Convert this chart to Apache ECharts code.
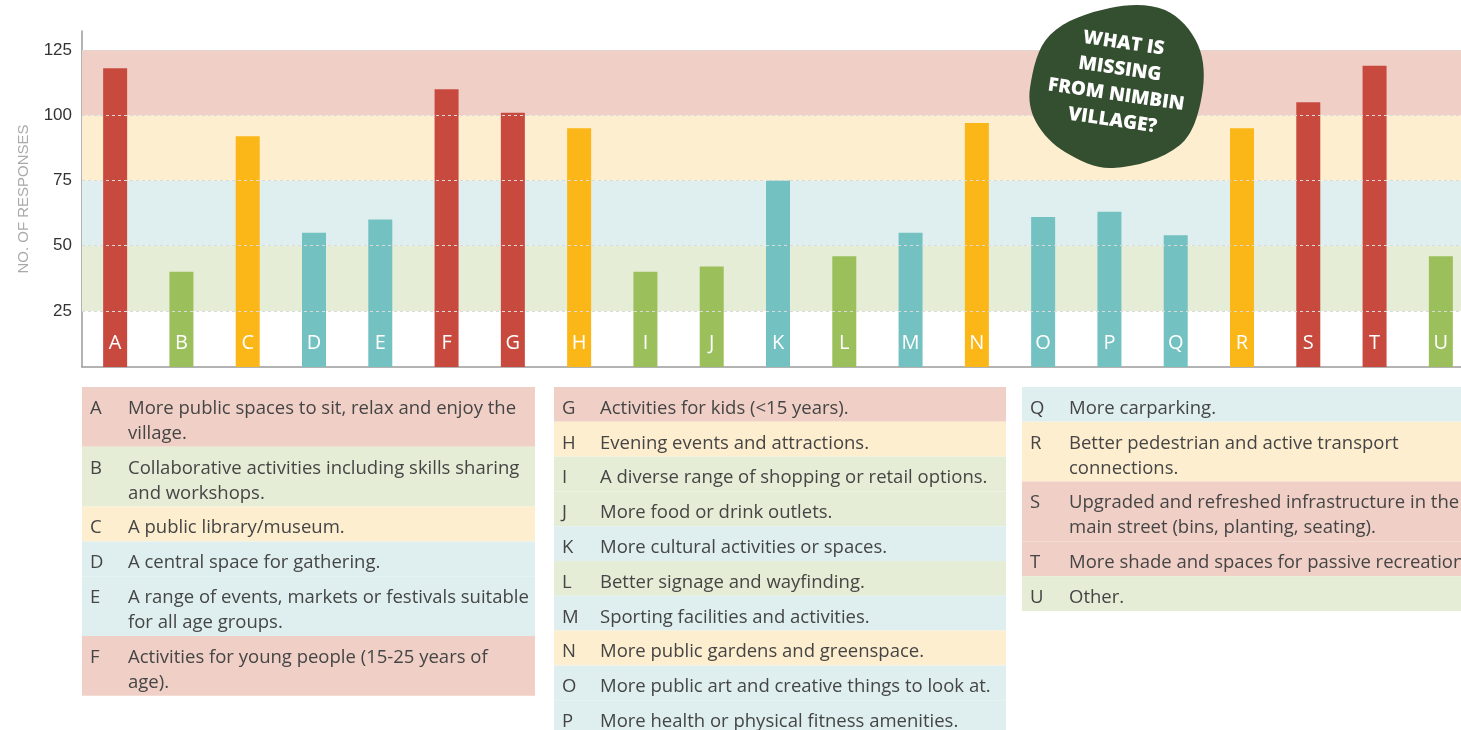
<!DOCTYPE html>
<html>
<head>
<meta charset="utf-8">
<script src="https://cdn.jsdelivr.net/npm/echarts@6/dist/echarts.min.js"></script>
<style>
  html, body { margin: 0; padding: 0; background: #ffffff; }
  #chart { width: 1461px; height: 730px; }
</style>
</head>
<body>
<div id="chart"></div>
<script>
// ---------- DATA ----------
var categories = ['A','B','C','D','E','F','G','H','I','J','K','L','M','N','O','P','Q','R','S','T','U'];
var responses  = [118, 40, 92, 55, 60, 110, 101, 95, 40, 42, 75, 46, 55, 97, 61, 63, 54, 95, 105, 119, 46];
var yTickValues = [25, 50, 75, 100, 125];
var yAxisName = 'NO. OF RESPONSES';
var descriptions = [
  'More public spaces to sit, relax and enjoy the\nvillage.',
  'Collaborative activities including skills sharing\nand workshops.',
  'A public library/museum.',
  'A central space for gathering.',
  'A range of events, markets or festivals suitable\nfor all age groups.',
  'Activities for young people (15-25 years of\nage).',
  'Activities for kids (<15 years).',
  'Evening events and attractions.',
  'A diverse range of shopping or retail options.',
  'More food or drink outlets.',
  'More cultural activities or spaces.',
  'Better signage and wayfinding.',
  'Sporting facilities and activities.',
  'More public gardens and greenspace.',
  'More public art and creative things to look at.',
  'More health or physical fitness amenities.',
  'More carparking.',
  'Better pedestrian and active transport\nconnections.',
  'Upgraded and refreshed infrastructure in the\nmain street (bins, planting, seating).',
  'More shade and spaces for passive recreation.',
  'Other.'
];
var legendColumns = [[0,1,2,3,4,5],[6,7,8,9,10,11,12,13,14,15],[16,17,18,19,20]];
var badgeText = 'WHAT IS\nMISSING\nFROM NIMBIN\nVILLAGE?';
// response bands: [from, to]
var bands = [[25,50],[50,75],[75,100],[100,125]];

// ---------- STYLE ----------
var strong = ['#9BBF5A', '#74C1C2', '#FBB617', '#C84A3E'];
var light  = ['#E5EDD6', '#DFEFEF', '#FDEECF', '#F0D0C6'];
function bandIndex(v) {
  if (v > 100) return 3;
  if (v > 75) return 2;
  if (v >= 50) return 1;
  return 0;
}

var chart = echarts.init(document.getElementById('chart'));

// legend table graphics
var colX = [
  {x: 82,   w: 453, lx: 90,   tx: 128},
  {x: 554,  w: 452, lx: 562,  tx: 600},
  {x: 1022, w: 460, lx: 1030, tx: 1069}
];
var textFont = {fontSize: 18.5, fontFamily: 'Open Sans', fill: '#454545'};
var graphics = [];
legendColumns.forEach(function (col, ci) {
  var c = colX[ci];
  var y = 387;
  col.forEach(function (idx) {
    var nLines = descriptions[idx].split('\n').length;
    var h = 34.8 + 25 * (nLines - 1);
    var bi = bandIndex(responses[idx]);
    graphics.push({
      type: 'rect', z: 10,
      shape: {x: c.x, y: y, width: c.w, height: h},
      style: {fill: light[bi]}
    });
    graphics.push({
      type: 'text', z: 11,
      x: c.lx, y: y + 9,
      style: {text: categories[idx], fill: textFont.fill, fontSize: textFont.fontSize, fontFamily: textFont.fontFamily,
              lineHeight: 25, verticalAlign: 'top', align: 'left'}
    });
    graphics.push({
      type: 'text', z: 11,
      x: c.tx, y: y + 9,
      style: {text: descriptions[idx], fill: textFont.fill, fontSize: textFont.fontSize, fontFamily: textFont.fontFamily,
              lineHeight: 25, verticalAlign: 'top', align: 'left'}
    });
    y += h;
  });
});

// badge
graphics.push({
  type: 'polygon', z: 20,
  shape: {
    points: [[1030,88],[1050,35],[1110,8],[1165,10],[1198,45],[1202,95],[1180,145],[1113,168],[1065,152],[1036,122]],
    smooth: 0.35
  },
  style: {fill: '#344E30'}
});
graphics.push({
  type: 'text', z: 21,
  x: 1118, y: 82, rotation: -0.145,
  style: {text: badgeText, fill: '#ffffff', fontSize: 19, fontWeight: 800, fontFamily: 'Open Sans',
          lineHeight: 26, align: 'center', verticalAlign: 'middle'}
});

var option = {
  animation: false,
  backgroundColor: '#ffffff',
  grid: {left: 82, width: 1392, top: 31, bottom: 363, outerBoundsMode: 'none'},
  xAxis: {
    type: 'category',
    data: categories,
    axisLine: {show: true, lineStyle: {color: '#9a9a9a', width: 1.5}},
    axisTick: {show: false},
    axisLabel: {show: false},
    splitLine: {show: false}
  },
  yAxis: {
    type: 'value',
    min: 3.5,
    max: 132.3,
    name: yAxisName,
    nameLocation: 'middle',
    nameGap: 51,
    nameTextStyle: {color: '#a9a9a9', fontSize: 15, fontFamily: 'Liberation Sans'},
    axisLine: {show: true, lineStyle: {color: '#9a9a9a', width: 1.5}},
    axisTick: {show: false},
    splitLine: {show: false},
    axisLabel: {
      customValues: yTickValues,
      color: '#333333', fontSize: 17, fontFamily: 'Liberation Sans', margin: 10
    }
  },
  series: [
    {
      type: 'line',
      data: responses.map(function () { return null; }),
      symbol: 'none',
      silent: true,
      z: 1,
      lineStyle: {opacity: 0},
      markArea: {
        silent: true,
        data: bands.map(function (b, i) {
          return [{yAxis: b[0], itemStyle: {color: light[i]}}, {yAxis: b[1]}];
        })
      },
      markLine: {
        silent: true,
        symbol: ['none', 'none'],
        label: {show: false},
        lineStyle: {type: [3, 3], color: '#dadada', width: 1},
        data: yTickValues.map(function (v) { return {yAxis: v}; })
      }
    },
    {
      type: 'bar',
      z: 3,
      barWidth: 24,
      data: responses.map(function (v) {
        return {value: v, itemStyle: {color: strong[bandIndex(v)]}};
      }),
      label: {
        show: true,
        position: 'insideBottom',
        distance: 14,
        formatter: '{b}',
        color: '#ffffff',
        fontSize: 20,
        fontFamily: 'Open Sans'
      }
    }
  ],
  graphic: {elements: graphics}
};
chart.setOption(option);
</script>
</body>
</html>
